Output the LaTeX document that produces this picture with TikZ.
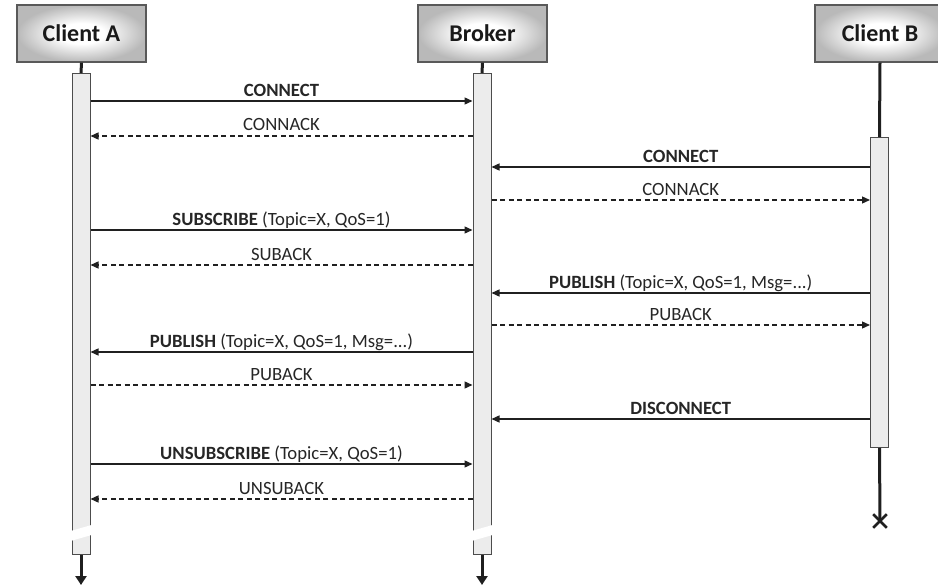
\documentclass[tikz,border=0pt]{standalone}
\usepackage{fontspec}
\setmainfont{Carlito}
\usetikzlibrary{positioning,arrows.meta,shapes.misc}
\pgfdeclareradialshading{headshade}{\pgfpoint{0bp}{0bp}}{color(0bp)=(white); color(9bp)=(white); color(25bp)=(gray!55); color(50bp)=(gray!55)}
\tikzset{
  head/.style={draw=gray!70!black, line width=1.2pt, shading=headshade,
    minimum width=129pt, minimum height=57pt,
    font=\fontsize{24}{28}\selectfont\bfseries, text=black!90},
  bar/.style={draw=gray!60!black, fill=gray!15, line width=1pt, minimum width=18pt,
    inner sep=0pt, anchor=north},
  life/.style={line width=3pt, black!88},
  msg/.style={line width=1.3pt, gray!25!black, -{Triangle[length=8pt,width=7pt]}},
  reply/.style={msg, dash pattern=on 5pt off 3.5pt},
  lbl/.style={anchor=base, yshift=5pt, font=\fontsize{18.7}{22}\selectfont, text=black!85},
}

\begin{document}
\begin{tikzpicture}[x=1pt, y=-1pt]
\useasboundingbox (0,0) rectangle (938,586);

% heads
\node[head] (clientA) at (81.5,33.5) {Client A};
\node[head] (broker) at (482.5,33.5) {Broker};
\node[head, minimum width=130pt] (clientB) at (880,33.5) {Client B};

% activation bars
\node[bar, minimum height=481pt] (barA) at (81,73) {};
\node[bar, minimum height=481pt] (barBr) at (482,73) {};
\node[bar, minimum height=310pt] (barB) at (879.5,137) {};

% lifelines
\coordinate (endA) at (81,585);
\coordinate (endBr) at (482,585);
\draw[life] (clientA.south) -- (barA.north);
\draw[life] (broker.south) -- (barBr.north);
\draw[life] (clientB.south) -- (barB.north);
\draw[life, -{Triangle[length=9pt,width=11pt]}] (barA.south) -- (endA);
\draw[life, -{Triangle[length=9pt,width=11pt]}] (barBr.south) -- (endBr);
\node[cross out, draw=black!88, line width=2.6pt, minimum size=11pt, inner sep=0pt] (endB) at (880,521) {};
\draw[life] (barB.south) -- (endB.center);

% breaks
\fill[white] (70.5,531) -- (91.5,525) -- (91.5,535) -- (70.5,541) -- cycle;
\fill[white] (471.5,531) -- (492.5,525) -- (492.5,535) -- (471.5,541) -- cycle;

% messages
\draw[msg] (barA.east |- 0,101) -- (barBr.west |- 0,101) node[lbl, midway] {\textbf{CONNECT}};
\draw[reply] (barBr.west |- 0,136) -- (barA.east |- 0,136) node[lbl, midway] {CONNACK};
\draw[msg] (barB.west |- 0,167) -- (barBr.east |- 0,167) node[lbl, midway] {\textbf{CONNECT}};
\draw[reply] (barBr.east |- 0,200) -- (barB.west |- 0,200) node[lbl, midway] {CONNACK};
\draw[msg] (barA.east |- 0,230) -- (barBr.west |- 0,230) node[lbl, midway] {\textbf{SUBSCRIBE} (Topic=X, QoS=1)};
\draw[reply] (barBr.west |- 0,265) -- (barA.east |- 0,265) node[lbl, midway] {SUBACK};
\draw[msg] (barB.west |- 0,293) -- (barBr.east |- 0,293) node[lbl, midway] {\textbf{PUBLISH} (Topic=X, QoS=1, Msg=...)};
\draw[reply] (barBr.east |- 0,325) -- (barB.west |- 0,325) node[lbl, midway] {PUBACK};
\draw[msg] (barBr.west |- 0,352) -- (barA.east |- 0,352) node[lbl, midway] {\textbf{PUBLISH} (Topic=X, QoS=1, Msg=...)};
\draw[reply] (barA.east |- 0,385) -- (barBr.west |- 0,385) node[lbl, midway] {PUBACK};
\draw[msg] (barB.west |- 0,419) -- (barBr.east |- 0,419) node[lbl, midway] {\textbf{DISCONNECT}};
\draw[msg] (barA.east |- 0,464) -- (barBr.west |- 0,464) node[lbl, midway] {\textbf{UNSUBSCRIBE} (Topic=X, QoS=1)};
\draw[reply] (barBr.west |- 0,499) -- (barA.east |- 0,499) node[lbl, midway] {UNSUBACK};
\end{tikzpicture}
\end{document}
